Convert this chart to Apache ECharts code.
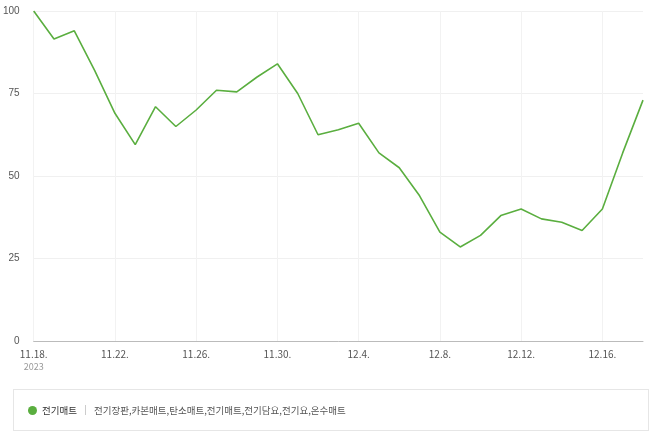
<!DOCTYPE html>
<html><head><meta charset="utf-8">
<script src="https://cdn.jsdelivr.net/npm/echarts@6/dist/echarts.min.js"></script>
<style>body{margin:0;background:#fff}#c{width:658px;height:436px}
#lg{position:absolute;left:13px;top:389px;width:636px;height:42px;border:1px solid #e6e6e6;box-sizing:border-box;font-family:'Noto Sans CJK KR',sans-serif;font-size:9.5px;display:flex;align-items:center;padding-left:14px}
#lg .d{width:9px;height:9px;border-radius:50%;background:#5aae3f;margin-right:5px}
#lg .s{width:1px;height:10px;background:#ccc;margin:0 8px}
</style></head><body>
<div id="c"></div>
<div id="lg"><span class="d"></span><span style="color:#333">전기매트</span><span class="s"></span><span style="color:#555">전기장판,카본매트,탄소매트,전기매트,전기담요,전기요,온수매트</span></div>
<script>
const categories=['11.18.','11.19.','11.20.','11.21.','11.22.','11.23.','11.24.','11.25.','11.26.','11.27.','11.28.','11.29.','11.30.','12.1.','12.2.','12.3.','12.4.','12.5.','12.6.','12.7.','12.8.','12.9.','12.10.','12.11.','12.12.','12.13.','12.14.','12.15.','12.16.','12.17.','12.18.'];
const values=[100,91.5,94,82,69,59.5,71,65,70,76,75.5,80,84,75,62.5,64,66,57,52.5,44,33,28.5,32,38,40,37,36,33.5,40,57,73];
const yTicks=[0,25,50,75,100];
const c=echarts.init(document.getElementById('c'));
c.setOption({
 animation:false,
 grid:{left:33,right:15,top:11,bottom:95,containLabel:false},
 xAxis:{type:'category',data:categories,boundaryGap:false,
  axisLine:{lineStyle:{color:'#bbb'}},axisTick:{show:false},
  splitLine:{show:true,interval:3,lineStyle:{color:'#f2f2f2'}},
  axisLabel:{interval:3,color:'#555',fontSize:10,fontFamily:'Noto Sans CJK KR',
   formatter:(v,i)=>i===0?'{a|'+v+'}\n{b|2023}':v,
   rich:{a:{fontSize:10,color:'#555'},b:{fontSize:9,color:'#999',padding:[3,0,0,0]}}}},
 yAxis:{type:'value',min:0,max:100,interval:25,
  axisLabel:{color:'#555',fontSize:10,margin:14,formatter:v=>yTicks.includes(v)?v:''},
  splitLine:{lineStyle:{color:'#f0f0f0'}},axisLine:{show:false},axisTick:{show:false}},
 series:[{type:'line',data:values,symbol:'none',lineStyle:{color:'#5aae3f',width:1.6}}]
});
</script></body></html>
